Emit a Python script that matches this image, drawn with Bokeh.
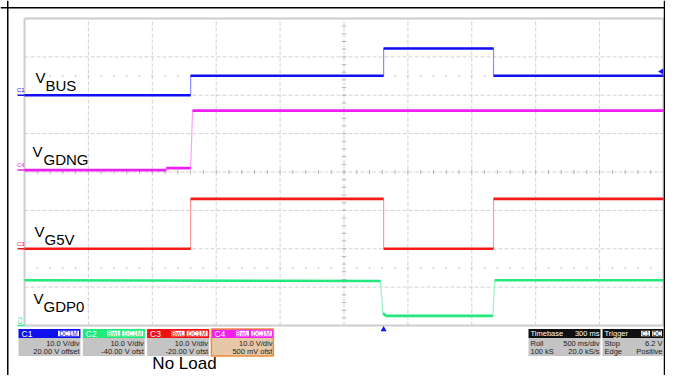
import math
from bokeh.plotting import figure
from bokeh.models import Range1d
from bokeh.core.properties import value
from bokeh.embed import file_html
from bokeh.resources import INLINE

# ---------------- data ----------------
channels = ["C1", "C2", "C3", "C4"]
volts_per_div = [10.0, 10.0, 10.0, 10.0]
offsets_v = [20.0, -40.0, -20.0, 0.5]
vdiv_labels = ["10.0 V/div", "10.0 V/div", "10.0 V/div", "10.0 V/div"]
offset_labels = ["20.00 V offset", "-40.00 V ofst", "-20.00 V ofst", "500 mV ofst"]
coupling_tags = [["DC1M"], ["BwL", "DC1M"], ["BwL", "DC1M"], ["BwL", "DC1M"]]

# time in seconds from the left edge of the screen (500 ms/div, 10 div)
t_vbus = [0.0, 1.30, 1.30, 2.81, 2.81, 3.67, 3.67, 5.0]
v_vbus = [0.0, 0.0, 5.1, 5.1, 12.2, 12.2, 5.1, 5.1]
t_vgdng = [0.0, 1.11, 1.11, 1.30, 1.315, 5.0]
v_vgdng = [0.0, 0.0, 0.5, 0.5, 15.5, 15.5]
t_vg5v = [0.0, 1.30, 1.30, 2.81, 2.81, 3.67, 3.67, 5.0]
v_vg5v = [0.0, 0.0, 13.0, 13.0, 0.0, 0.0, 13.0, 13.0]
t_vgdp0 = [0.0, 2.785, 2.805, 2.83, 3.665, 3.68, 5.0]
v_vgdp0 = [11.8, 11.6, 3.2, 2.5, 2.5, 11.8, 11.8]

trace_names = ["BUS", "GDNG", "G5V", "GDP0"]
trace_channels = ["C1", "C4", "C3", "C2"]

time_per_div = 0.5
n_xdiv = 10
n_ydiv = 8
trigger_time = 2.81
trigger_level = 6.2
timebase_rows = [("Timebase", "300 ms"), ("Roll", "500 ms/div"), ("100 kS", "20.0 kS/s")]
trigger_rows = [("Trigger", ""), ("Stop", "6.2 V"), ("Edge", "Positive")]
trigger_tags = ["C1", "DC"]
caption = "No Load"

# ---------------- layout / style (figure pixel coordinates) ----------------
W, H = 665, 375
PL, PR, PT, PB = 24, 663, 18, 325
FONT = value("Liberation Sans")
ch_color = {"C1": "#1010f0", "C2": "#22e87e", "C3": "#f41a1a", "C4": "#f01ef0"}
ch_edge = {"C1": "#8c8cff", "C2": "#9af5c4", "C3": "#ff9a9a", "C4": "#ff9cff"}
ch_head = {"C1": "#1010ee", "C2": "#20e87a", "C3": "#f01010", "C4": "#f020f0"}

p = figure(width=W, height=H, x_range=Range1d(0, W), y_range=Range1d(H, 0),
           output_backend="svg", toolbar_location=None, min_border=0,
           x_axis_location=None, y_axis_location=None, outline_line_color=None,
           background_fill_color="white", border_fill_color="white")
p.grid.visible = False

# ranges in divisions / seconds / volts
pxx = (PR - PL) / n_xdiv
pxy = (PB - PT) / n_ydiv
xd0, xd1 = -PL / pxx, n_xdiv + (W - PR) / pxx
yd_bot = n_ydiv / 2 - (H - PT) / pxy
yd_top = n_ydiv / 2 + PT / pxy
p.extra_x_ranges = {"xdiv": Range1d(xd0, xd1),
                    "t": Range1d(xd0 * time_per_div, xd1 * time_per_div)}
yr = {"ydiv": Range1d(yd_bot, yd_top)}
for ch, vd, off in zip(channels, volts_per_div, offsets_v):
    yr[ch] = Range1d(yd_bot * vd - off, yd_top * vd - off)
p.extra_y_ranges = yr

# ---------------- graticule ----------------
hx = n_xdiv
hy = n_ydiv / 2
gx = [k for k in range(1, n_xdiv)]
p.segment(x0=gx, y0=[-hy] * len(gx), x1=gx, y1=[hy] * len(gx), x_range_name="xdiv",
          y_range_name="ydiv", line_color="#d2d2d2", line_width=1, line_dash="4 2")
gy = [k for k in range(-int(hy) + 1, int(hy))]
p.segment(x0=[0] * len(gy), y0=gy, x1=[hx] * len(gy), y1=gy, x_range_name="xdiv",
          y_range_name="ydiv", line_color="#d2d2d2", line_width=1, line_dash="4 2")
tx = [k * 0.2 for k in range(1, n_xdiv * 5)]
p.segment(x0=tx, y0=[-0.055] * len(tx), x1=tx, y1=[0.055] * len(tx), x_range_name="xdiv",
          y_range_name="ydiv", line_color="#b4b4b4", line_width=1)
ty = [k * 0.2 for k in range(-int(hy) * 5 + 1, int(hy) * 5)]
p.segment(x0=[hx / 2 - 0.035] * len(ty), y0=ty, x1=[hx / 2 + 0.035] * len(ty), y1=ty,
          x_range_name="xdiv", y_range_name="ydiv", line_color="#b4b4b4", line_width=1)
for yy in (2.5, -2.5):
    p.scatter(x=tx, y=[yy] * len(tx), x_range_name="xdiv", y_range_name="ydiv",
              marker="square", size=1.5, fill_color="#c4c4c4", line_color=None)
p.segment(x0=[0, hx, 0, 0], y0=[-hy, -hy, hy, -hy], x1=[0, hx, hx, hx], y1=[hy, hy, hy, -hy],
          x_range_name="xdiv", y_range_name="ydiv", line_color="#cdcdcd", line_width=2)

# ---------------- traces ----------------
traces = [(t_vbus, v_vbus), (t_vgdng, v_vgdng), (t_vg5v, v_vg5v), (t_vgdp0, v_vgdp0)]
for i in [3, 2, 1, 0]:
    t, v = traces[i]
    ch = trace_channels[i]
    vd = volts_per_div[channels.index(ch)]
    p.line(t, v, x_range_name="t", y_range_name=ch, line_color=ch_edge[ch], line_width=1.2)
    x0, y0, x1, y1 = [], [], [], []
    for k in range(len(t) - 1):
        dx = (t[k + 1] - t[k]) / time_per_div * pxx
        dy = abs(v[k + 1] - v[k]) / vd * pxy
        if dy <= dx:
            x0.append(t[k]); y0.append(v[k]); x1.append(t[k + 1]); y1.append(v[k + 1])
    p.segment(x0=x0, y0=y0, x1=x1, y1=y1, x_range_name="t", y_range_name=ch,
              line_color=ch_color[ch], line_width=2.6, line_cap="butt")

# channel ground markers at left
for ch in ["C1", "C4", "C3"]:
    p.segment(x0=[17], y0=[0], x1=[24], y1=[0], y_range_name=ch,
              line_color=ch_color[ch], line_width=1.5)
    p.text(x=[16.5], y=[0], text=[ch], y_range_name=ch, y_offset=-5, text_font=FONT,
           text_font_size="6px", text_color=ch_color[ch], text_baseline="middle")
p.segment(x0=[17], y0=[0], x1=[24], y1=[0], y_range_name="C2",
          line_color=ch_color["C2"], line_width=1.5)
p.text(x=[19.5], y=[0], text=["C2"], y_range_name="C2", y_offset=-5, text_font=FONT,
       text_font_size="6px", text_color=ch_color["C2"], text_baseline="middle",
       text_align="center", angle=math.pi / 2)

# trigger markers
p.scatter(x=[661], y=[trigger_level], y_range_name="C1", marker="triangle",
          angle=math.pi / 2, size=6, fill_color=ch_color["C1"], line_color=None)
p.scatter(x=[trigger_time], y=[329], x_range_name="t", marker="triangle",
          size=6, fill_color=ch_color["C1"], line_color=None)

# ---------------- trace labels (y = cap centre) ----------------
lab_v = [(35, 76.5), (32, 150.5), (34, 230.5), (33, 297.5)]
lab_s = [(45, 84.5), (43, 158.5), (44, 238.5), (43, 305.5)]
p.text(x=[a for a, b in lab_v], y=[b for a, b in lab_v], text=["V"] * 4, text_font=FONT,
       text_font_size="15px", text_color="black", text_baseline="middle")
p.text(x=[a for a, b in lab_s], y=[b for a, b in lab_s], text=trace_names, text_font=FONT,
       text_font_size="15px", text_color="black", text_baseline="middle")

# ---------------- info boxes ----------------
HT, HB, BB = 328.5, 337.5, 355.5
HC, R1, R2 = 333.0, 343.3, 351.3
BODY_FS = "7.5px"
for i, ch in enumerate(channels):
    L = 18 + 64.3 * i
    R = L + 62
    body = "#e6c7a6" if ch == "C4" else "#c4c4c4"
    p.quad(left=[L], right=[R], top=[HB], bottom=[BB], fill_color=body, line_color=None)
    p.quad(left=[L], right=[R], top=[HT], bottom=[HB], fill_color=ch_head[ch], line_color=None)
    if ch == "C4":
        p.quad(left=[L], right=[R], top=[HT], bottom=[BB], fill_color=None,
               line_color="#f08a3c", line_width=1.5)
    p.text(x=[L + 3], y=[HC], text=[ch], text_font=FONT, text_font_size="8.5px",
           text_color="white", text_baseline="middle")
    tags = coupling_tags[i]
    rights = [R - 1, R - 24][:len(tags)]
    widths = [22, 14]
    for tag, rr, ww in zip(reversed(tags), rights, widths):
        p.quad(left=[rr - ww], right=[rr], top=[HT + 1.2], bottom=[HB - 1.2],
               fill_color="white", line_color=ch_head[ch], line_width=1)
        p.text(x=[rr - ww / 2], y=[HC], text=[tag], text_font=FONT,
               text_font_size="6.5px", text_color=ch_head[ch], text_align="center",
               text_baseline="middle")
    p.text(x=[R - 1, R - 1], y=[R1, R2], text=[vdiv_labels[i], offset_labels[i]],
           text_font=FONT, text_font_size=BODY_FS, text_color="#222222", text_align="right",
           text_baseline="middle")

for (L, R, rows) in [(528, 600, timebase_rows), (602, 663, trigger_rows)]:
    p.quad(left=[L], right=[R], top=[HB], bottom=[BB], fill_color="#c4c4c4", line_color=None)
    p.quad(left=[L], right=[R], top=[HT], bottom=[HB], fill_color="#101010", line_color=None)
    ys = [HC, R1, R2]
    cols = ["white", "#222222", "#222222"]
    for (a, b), yy, cc in zip(rows, ys, cols):
        p.text(x=[L + 2], y=[yy], text=[a], text_font=FONT, text_font_size=BODY_FS,
               text_color=cc, text_baseline="middle")
        if b:
            p.text(x=[R - 1], y=[yy], text=[b], text_font=FONT, text_font_size=BODY_FS,
                   text_color=cc, text_align="right", text_baseline="middle")
for tag, (a, b) in zip(trigger_tags, [(640, 650), (651, 662)]):
    p.quad(left=[a], right=[b], top=[HT + 1.2], bottom=[HB - 1.2], fill_color="white",
           line_color="#101010", line_width=1)
    p.text(x=[(a + b) / 2], y=[HC], text=[tag], text_font=FONT,
           text_font_size="6.5px", text_color="#101010", text_align="center",
           text_baseline="middle")

# caption (kept inside the figure)
p.text(x=[184], y=[363], text=[caption], text_font=FONT, text_font_size="17px",
       text_color="black", text_align="center", text_baseline="middle")

# document frame lines
p.segment(x0=[0, 7.25, W - 1], y0=[7.25, 0, 0], x1=[W, 7.25, W - 1], y1=[7.25, H, H],
          line_color="black", line_width=1.5)

open("out.html", "w").write(file_html(p, INLINE))
